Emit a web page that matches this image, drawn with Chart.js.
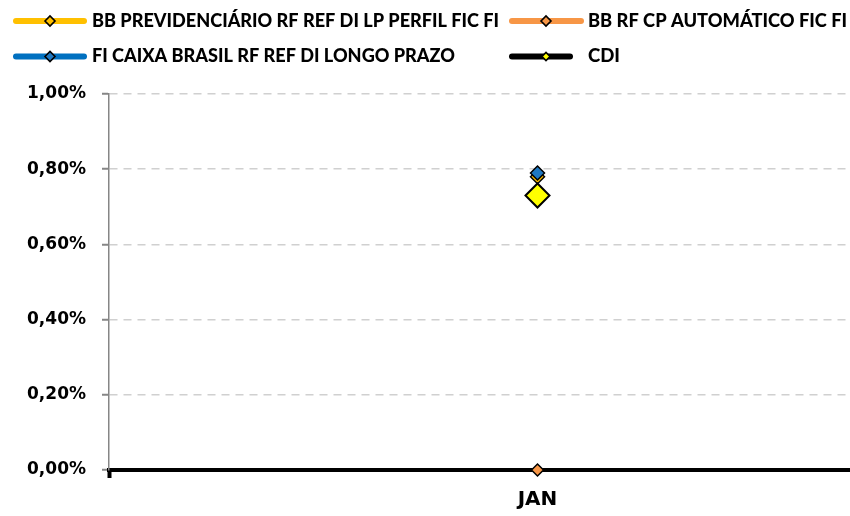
<!DOCTYPE html>
<html>
<head>
<meta charset="utf-8">
<script src="https://cdn.jsdelivr.net/npm/chart.js@4/dist/chart.umd.min.js"></script>
<style>
  html, body { margin: 0; padding: 0; background: #fff; overflow: hidden; }
  #wrap { width: 850px; height: 516px; overflow: hidden; }
</style>
</head>
<body>
<div id="wrap"><canvas id="myChart" width="980" height="516"></canvas></div>
<script>
const meses = ["JAN"];
const bbPrevidenciario = [0.78];
const bbRfCpAutomatico = [0.00];
const caixaLongoPrazo = [0.79];
const cdi = [0.73];
const yTicks = [0, 0.2, 0.4, 0.6, 0.8, 1.0];

function fmtPct(v) {
  return v.toFixed(2).replace(".", ",") + "%";
}

// legenda no estilo do Excel (2 linhas, 2 colunas)
const legendaExcel = {
  id: "legendaExcel",
  afterDraw(chart) {
    const ctx = chart.ctx;
    const slots = [
      { x1: 13, x2: 87, y: 21, tx: 92, tw: 407, r: 5 },
      { x1: 509, x2: 584, y: 21, tx: 588, tw: 259, r: 5 },
      { x1: 13, x2: 87, y: 56.5, tx: 92, tw: 363, r: 5 },
      { x1: 509, x2: 573, y: 56.5, tx: 588, tw: 32, r: 4 },
    ];
    chart.data.datasets.forEach((ds, i) => {
      const s = slots[i];
      ctx.save();
      ctx.lineCap = "round";
      ctx.lineWidth = 6;
      ctx.strokeStyle = ds.borderColor;
      ctx.beginPath();
      ctx.moveTo(s.x1 + 3, s.y);
      ctx.lineTo(s.x2 - 3, s.y);
      ctx.stroke();
      const cx = s.x1 + 37;
      ctx.beginPath();
      ctx.moveTo(cx - s.r, s.y);
      ctx.lineTo(cx, s.y - s.r);
      ctx.lineTo(cx + s.r, s.y);
      ctx.lineTo(cx, s.y + s.r);
      ctx.closePath();
      ctx.fillStyle = ds.pointBackgroundColor;
      ctx.fill();
      ctx.lineWidth = 1.6;
      ctx.strokeStyle = "#000";
      ctx.stroke();
      ctx.fillStyle = "#000";
      ctx.font = "900 18px Lato, 'Open Sans', sans-serif";
      ctx.textBaseline = "alphabetic";
      ctx.textAlign = "left";
      const w = ctx.measureText(ds.label).width;
      ctx.translate(s.tx, s.y + 5.5);
      ctx.scale(s.tw / w, 1);
      ctx.fillText(ds.label, 0, 0);
      ctx.restore();
    });
  },
};

const ctx = document.getElementById("myChart").getContext("2d");
const myChart = new Chart(ctx, {
  type: "line",
  data: {
    labels: meses,
    datasets: [
      {
        label: "BB PREVIDENCIÁRIO RF REF DI LP PERFIL FIC FI",
        data: bbPrevidenciario,
        borderColor: "#FFC000",
        backgroundColor: "#FFC000",
        pointBackgroundColor: "#FFC000",
        pointBorderColor: "#000",
        pointBorderWidth: 1.5,
        pointStyle: "rectRot",
        pointRadius: 7,
        order: 2,
        clip: false,
      },
      {
        label: "BB RF CP AUTOMÁTICO FIC FI",
        data: bbRfCpAutomatico,
        borderColor: "#F79646",
        backgroundColor: "#F79646",
        pointBackgroundColor: "#F79646",
        pointBorderColor: "#000",
        pointBorderWidth: 1.5,
        pointStyle: "rectRot",
        pointRadius: 6,
        order: 3,
        clip: false,
      },
      {
        label: "FI CAIXA BRASIL RF REF DI LONGO PRAZO",
        data: caixaLongoPrazo,
        borderColor: "#0070C0",
        backgroundColor: "#0070C0",
        pointBackgroundColor: "#1F78C1",
        pointBorderColor: "#000",
        pointBorderWidth: 1.5,
        pointStyle: "rectRot",
        pointRadius: 7,
        order: 1,
        clip: false,
      },
      {
        label: "CDI",
        data: cdi,
        borderColor: "#000000",
        backgroundColor: "#000000",
        pointBackgroundColor: "#FFFF00",
        pointBorderColor: "#000",
        pointBorderWidth: 2,
        pointStyle: "rectRot",
        pointRadius: 12,
        order: 0,
        clip: false,
      },
    ],
  },
  options: {
    responsive: false,
    animation: false,
    events: [],
    layout: { padding: { top: 94, right: 13, left: 0, bottom: 0 } },
    plugins: {
      legend: { display: false },
      tooltip: { enabled: false },
    },
    scales: {
      x: {
        offset: true,
        afterFit(scale) { scale.height = 46; },
        grid: {
          offset: true,
          drawOnChartArea: false,
          drawTicks: true,
          tickLength: 8,
          tickColor: "#000",
          tickWidth: 4,
        },
        border: { display: true, color: "#000", width: 4 },
        ticks: {
          color: "#000",
          padding: 10,
          font: { family: "'DejaVu Sans'", size: 20, weight: "bold" },
        },
      },
      y: {
        min: 0,
        max: 1,
        afterFit(scale) { scale.width = 109; },
        afterBuildTicks(scale) {
          scale.ticks = yTicks.map((v) => ({ value: v }));
        },
        grid: {
          color: "#D0D0D0",
          lineWidth: 1.5,
          tickLength: 7,
          tickColor: "#868686",
          tickWidth: 2,
        },
        border: { display: true, color: "#868686", width: 1.5, dash: [8, 6] },
        ticks: {
          color: "#000",
          padding: 16,
          font: { family: "'DejaVu Sans'", size: 17, weight: "bold" },
          callback: (v) => fmtPct(v),
        },
      },
    },
  },
  plugins: [legendaExcel],
});
</script>
</body>
</html>
